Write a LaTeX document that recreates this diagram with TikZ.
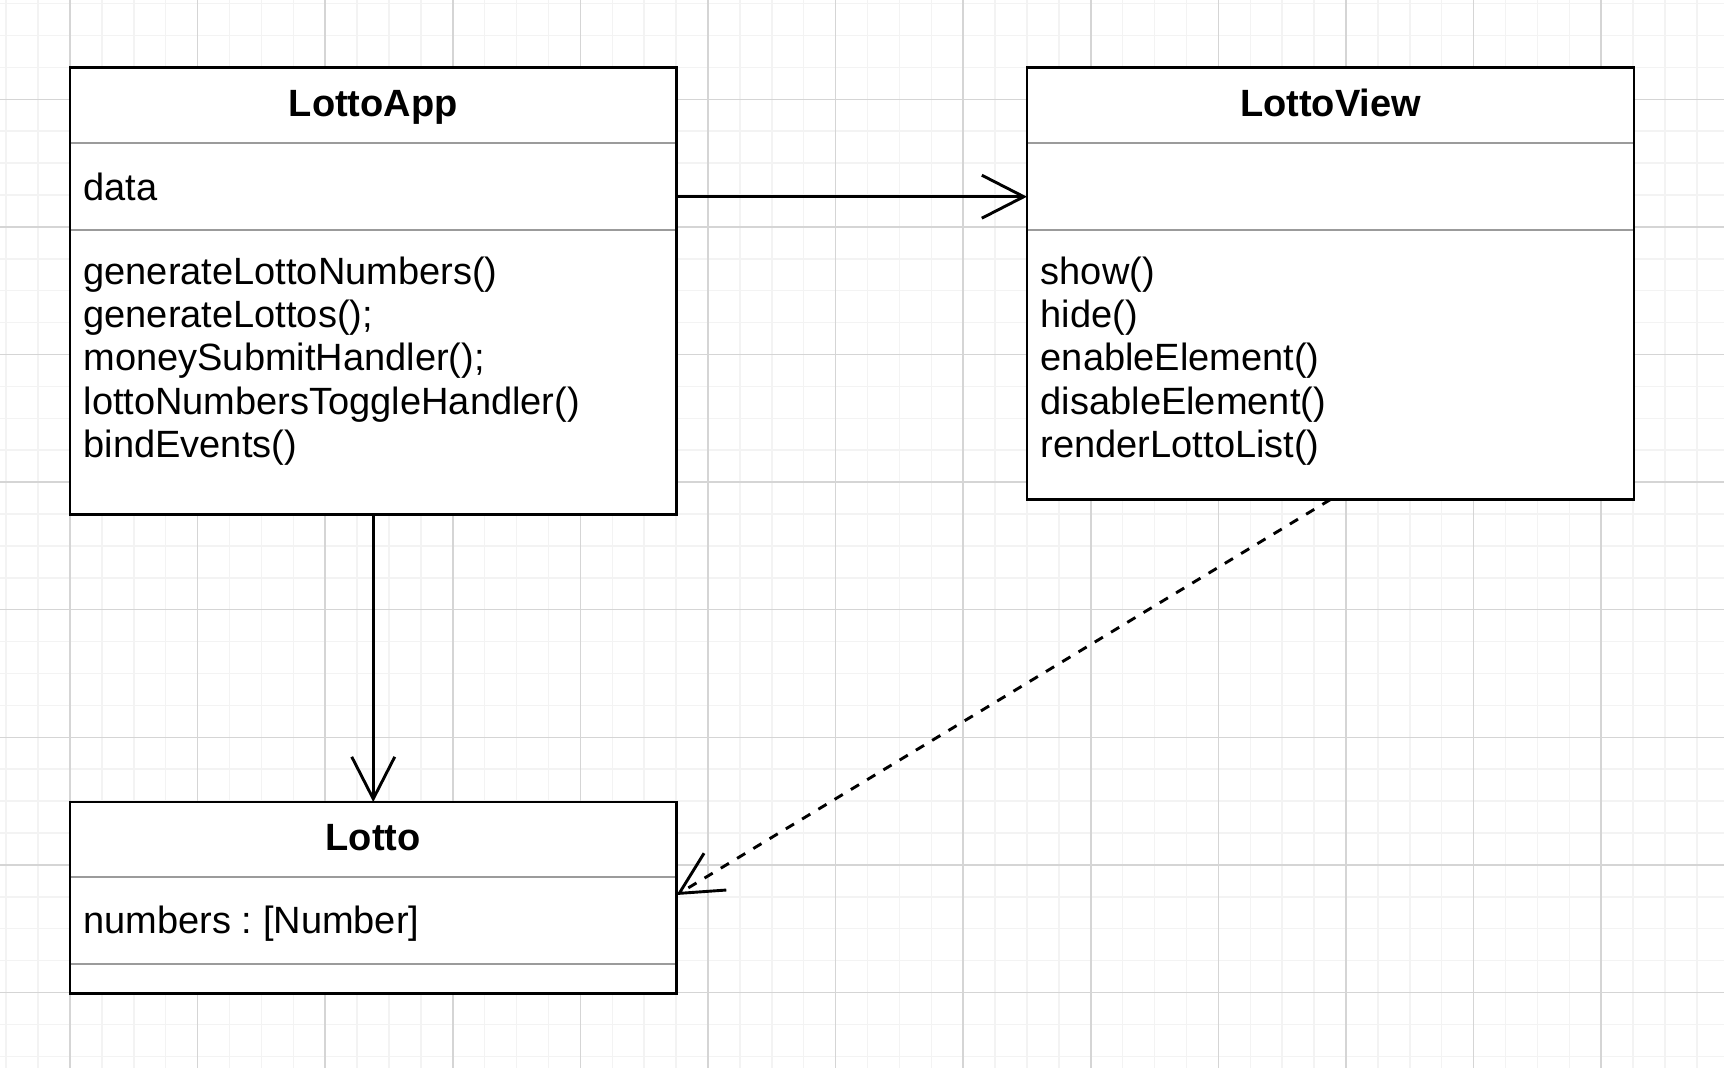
\documentclass[tikz,border=0pt]{standalone}
\usepackage{fontspec}
\setmainfont{Liberation Sans}
\usetikzlibrary{arrows.meta,calc}
\definecolor{gridminor}{RGB}{243,243,243}
\definecolor{gridmajor}{RGB}{213,213,213}
\definecolor{sepgray}{RGB}{155,155,155}
\frenchspacing
\begin{document}
\begin{tikzpicture}[x=1pt,y=-1pt,
  classbox/.style={draw=black, line width=2.8pt, fill=white, rectangle, inner sep=0pt, outer sep=0pt, anchor=north west},
  title/.style={anchor=base, inner sep=0pt, font=\fontsize{38}{43.4}\selectfont\bfseries},
  member/.style={anchor=base west, inner sep=0pt, font=\fontsize{38}{43.4}\selectfont},
  sepline/.style={draw=sepgray, line width=2pt, shorten <=1.4pt, shorten >=1.4pt},
  minorgrid/.style={draw=gridminor, line width=1.5pt},
  majorgrid/.style={draw=gridmajor, line width=1.5pt},
  assoc/.style={draw=black, line width=2.9pt, -{Straight Barb[length=42pt,width=43pt]}},
  depend/.style={draw=black, line width=2.9pt, dash pattern=on 9.5pt off 9.5pt, -{Straight Barb[length=42pt,width=43pt]}}
]
\useasboundingbox (0,0) rectangle (1724,1068);
\fill[white] (0,0) rectangle (1724,1068);
% grid
\foreach \i in {0,...,53} \draw[minorgrid] ({6.2+31.9*\i},0) -- ({6.2+31.9*\i},1068);
\foreach \i in {0,...,33} \draw[minorgrid] (0,{3.6+31.9*\i}) -- (1724,{3.6+31.9*\i});
\foreach \i in {0,...,12} \draw[majorgrid] ({70+127.6*\i},0) -- ({70+127.6*\i},1068);
\foreach \i in {0,...,7} \draw[majorgrid] (0,{99.3+127.6*\i}) -- (1724,{99.3+127.6*\i});

% LottoApp
\node[classbox, minimum width=606.5pt, minimum height=446.8pt] (app) at (70,67.7) {};
\draw[sepline] ($(app.north west)+(0,75.6)$) -- ($(app.north east)+(0,75.6)$);
\draw[sepline] ($(app.north west)+(0,162.3)$) -- ($(app.north east)+(0,162.3)$);
\node[title] (appt) at ($(app.north)+(0,49)$) {LottoApp};
\node[member] (appa) at ($(app.north west)+(13.4,132.8)$) {data};
\node[member] (appm1) at ($(app.north west)+(13.4,216.3)$) {generateLottoNumbers()};
\node[member] (appm2) at ($(app.north west)+(13.4,259.7)$) {generateLottos();};
\node[member] (appm3) at ($(app.north west)+(13.4,303.1)$) {moneySubmitHandler();};
\node[member] (appm4) at ($(app.north west)+(13.4,346.5)$) {lottoNumbersToggleHandler()};
\node[member] (appm5) at ($(app.north west)+(13.4,389.9)$) {bindEvents()};

% LottoView
\node[classbox, minimum width=607pt, minimum height=431.8pt] (view) at (1027,67.7) {};
\draw[sepline] ($(view.north west)+(0,75.6)$) -- ($(view.north east)+(0,75.6)$);
\draw[sepline] ($(view.north west)+(0,162.3)$) -- ($(view.north east)+(0,162.3)$);
\node[title] (viewt) at ($(view.north)+(0,49)$) {LottoView};
\node[member] (viewm1) at ($(view.north west)+(13.6,216.3)$) {show()};
\node[member] (viewm2) at ($(view.north west)+(13.6,259.7)$) {hide()};
\node[member] (viewm3) at ($(view.north west)+(13.6,303.1)$) {enableElement()};
\node[member] (viewm4) at ($(view.north west)+(13.6,346.5)$) {disableElement()};
\node[member] (viewm5) at ($(view.north west)+(13.6,389.9)$) {renderLottoList()};

% Lotto
\node[classbox, minimum width=606.5pt, minimum height=191.3pt] (lotto) at (70,802) {};
\draw[sepline] ($(lotto.north west)+(0,75.3)$) -- ($(lotto.north east)+(0,75.3)$);
\draw[sepline] ($(lotto.north west)+(0,162.3)$) -- ($(lotto.north east)+(0,162.3)$);
\node[title] (lottot) at ($(lotto.north)+(0,48.5)$) {Lotto};
\node[member] (lottoa) at ($(lotto.north west)+(13.4,131.8)$) {numbers : [Number]};

% connectors
\draw[assoc] ($(app.north east)+(0,129)$) -- ($(view.north west)+(0,129)$);
\draw[assoc] (app.south) -- (lotto.north);
\draw[depend] (view.south) -- ($(lotto.north east)+(0,93)$);
\end{tikzpicture}
\end{document}
